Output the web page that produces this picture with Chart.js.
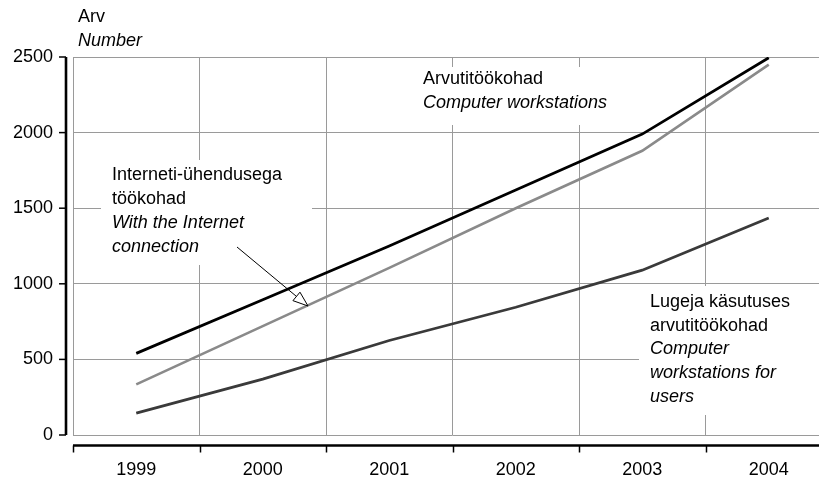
<!DOCTYPE html>
<html>
<head>
<meta charset="utf-8">
<script src="https://cdn.jsdelivr.net/npm/chart.js@4"></script>
<style>
html,body{margin:0;padding:0;background:#fff;overflow:hidden;width:819px;height:480px;}
#wrap{width:832px;height:480px;position:relative;}
</style>
</head>
<body>
<div id="wrap"><canvas id="c"></canvas></div>
<script>
const years = ['1999', '2000', '2001', '2002', '2003', '2004'];
const workstations = [540, 895, 1250, 1620, 1990, 2495];
const internet = [335, 720, 1105, 1500, 1880, 2450];
const users = [145, 370, 625, 845, 1090, 1435];
const yMin = 0, yMax = 2500, yStep = 500;
const yTitle = ['Arv', 'Number'];
const labelWorkstations = [['Arvutitöökohad', false], ['Computer workstations', true]];
const labelInternet = [['Interneti-ühendusega', false], ['töökohad', false], ['With the Internet', true], ['connection', true]];
const labelUsers = [['Lugeja käsutuses', false], ['arvutitöökohad', false], ['Computer', true], ['workstations for', true], ['users', true]];

const FONT = '"Liberation Sans", Arial, sans-serif';

function drawLines(ctx, lines, x, y0, step) {
  lines.forEach((l, i) => {
    ctx.font = (l[1] ? 'italic ' : '') + '18px ' + FONT;
    ctx.fillText(l[0], x, y0 + i * step);
  });
}

const annot = {
  id: 'annot',
  beforeDatasetsDraw(chart) {
    const ctx = chart.ctx;
    ctx.save();
    ctx.fillStyle = '#fff';
    ctx.fillRect(415, 67, 185, 58);
    ctx.fillRect(101, 160, 211, 105);
    ctx.fillRect(639, 286, 200, 129);
    ctx.fillStyle = '#000';
    ctx.textAlign = 'left';
    ctx.textBaseline = 'middle';
    drawLines(ctx, labelWorkstations, 423, 79, 24);
    drawLines(ctx, labelInternet, 112, 175, 24);
    drawLines(ctx, labelUsers, 650, 302, 23.7);
    ctx.restore();
  },
  afterDraw(chart) {
    const ctx = chart.ctx;
    const a = chart.chartArea;
    const ys = chart.scales.y;
    ctx.save();
    // y axis line
    ctx.strokeStyle = '#000';
    ctx.lineWidth = 2.6;
    const ax = a.left - 7;
    ctx.beginPath();
    ctx.moveTo(ax, a.top);
    ctx.lineTo(ax, a.bottom);
    ctx.stroke();
    ctx.lineWidth = 1.5;
    ys.ticks.forEach(t => {
      const py = ys.getPixelForValue(t.value);
      ctx.beginPath();
      ctx.moveTo(ax - 7, py);
      ctx.lineTo(ax, py);
      ctx.stroke();
    });
    // x axis line
    const ay = a.bottom + 10.5;
    ctx.lineWidth = 2.6;
    ctx.beginPath();
    ctx.moveTo(a.left, ay);
    ctx.lineTo(chart.width, ay);
    ctx.stroke();
    ctx.lineWidth = 1.5;
    const cw = (a.right - a.left) / years.length;
    for (let i = 0; i <= years.length; i++) {
      const px = Math.round(a.left + i * cw) + 0.5;
      ctx.beginPath();
      ctx.moveTo(px, ay);
      ctx.lineTo(px, ay + 7);
      ctx.stroke();
    }
    // axis title
    ctx.fillStyle = '#000';
    ctx.textAlign = 'left';
    ctx.textBaseline = 'middle';
    ctx.font = '18px ' + FONT;
    ctx.fillText(yTitle[0], 78, 17);
    ctx.font = 'italic 18px ' + FONT;
    ctx.fillText(yTitle[1], 78, 41);
    // arrow
    const x1 = 237, y1 = 247, x2 = 308, y2 = 306;
    const ang = Math.atan2(y2 - y1, x2 - x1);
    const hl = 15, hw = 5.5;
    const bx = x2 - hl * Math.cos(ang), by = y2 - hl * Math.sin(ang);
    ctx.lineWidth = 1;
    ctx.beginPath();
    ctx.moveTo(x1, y1);
    ctx.lineTo(bx, by);
    ctx.stroke();
    ctx.beginPath();
    ctx.moveTo(x2, y2);
    ctx.lineTo(bx - hw * Math.sin(ang), by + hw * Math.cos(ang));
    ctx.lineTo(bx + hw * Math.sin(ang), by - hw * Math.cos(ang));
    ctx.closePath();
    ctx.fillStyle = '#fff';
    ctx.fill();
    ctx.stroke();
    ctx.restore();
  }
};

new Chart(document.getElementById('c'), {
  type: 'line',
  data: {
    labels: years,
    datasets: [
      { label: 'With the Internet connection', data: internet, borderColor: '#8a8a8a', borderWidth: 2.6 },
      { label: 'Computer workstations for users', data: users, borderColor: '#3a3a3a', borderWidth: 2.8 },
      { label: 'Computer workstations', data: workstations, borderColor: '#000000', borderWidth: 2.8 }
    ]
  },
  options: {
    responsive: true,
    maintainAspectRatio: false,
    animation: false,
    devicePixelRatio: 1,
    layout: { padding: { left: 0, top: 57, right: 0, bottom: 0 } },
    elements: { point: { radius: 0, hoverRadius: 0 }, line: { tension: 0, borderCapStyle: 'butt' } },
    plugins: { legend: { display: false }, tooltip: { enabled: false } },
    scales: {
      x: {
        type: 'category',
        offset: true,
        grid: { offset: true, color: '#9a9a9a', lineWidth: 1, drawTicks: false },
        border: { display: false },
        ticks: { color: '#000', font: { family: FONT, size: 18 }, padding: 24, maxRotation: 0, autoSkip: false },
        afterFit(s) { s.height = 45; }
      },
      y: {
        min: yMin, max: yMax,
        grid: { color: '#9a9a9a', lineWidth: 1, drawTicks: false },
        border: { display: false },
        ticks: { stepSize: yStep, color: '#000', font: { family: FONT, size: 18 }, padding: 20, callback: v => String(v) },
        afterFit(s) { s.width = 73; }
      }
    }
  },
  plugins: [annot]
});
</script>
</body>
</html>
